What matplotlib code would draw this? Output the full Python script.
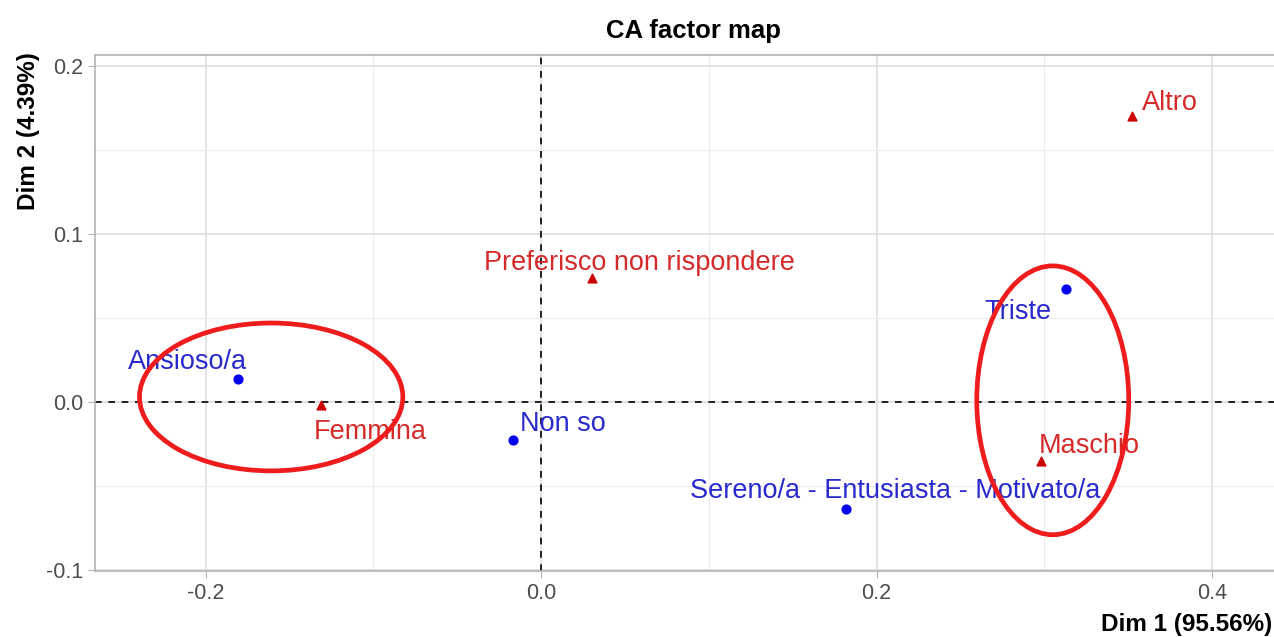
import matplotlib
matplotlib.use("Agg")
import matplotlib.pyplot as plt
from matplotlib.patches import Ellipse
from matplotlib.ticker import MultipleLocator

plt.rcParams['font.family'] = ['Liberation Sans', 'DejaVu Sans']

# row points (blue) and column points (red) from the CA
row_labels = ["Ansioso/a", "Non so", "Sereno/a - Entusiasta - Motivato/a", "Triste"]
row_dim1 = [-0.181, -0.017, 0.182, 0.313]
row_dim2 = [0.0137, -0.0226, -0.0637, 0.0673]

col_labels = ["Femmina", "Preferisco non rispondere", "Maschio", "Altro"]
col_dim1 = [-0.131, 0.030, 0.298, 0.352]
col_dim2 = [-0.0018, 0.0738, -0.0351, 0.170]

# label offsets in pixels (repelled text)
row_offsets = [(-50, 17), (50, 16), (49, 18), (-48, -23)]
col_offsets = [(49, -27), (48, 15), (48, 15), (38, 13)]

fig = plt.figure(figsize=(12.74, 6.37), dpi=100)
# panel runs a bit past the right edge (cropped screenshot)
ax = fig.add_axes([0.0746, 0.1036, 0.94, 0.81])

ax.set_xlim(-0.266, 0.448)
ax.set_ylim(-0.1006, 0.2065)

ax.xaxis.set_major_locator(MultipleLocator(0.2))
ax.xaxis.set_minor_locator(MultipleLocator(0.1))
ax.yaxis.set_major_locator(MultipleLocator(0.1))
ax.yaxis.set_minor_locator(MultipleLocator(0.05))
ax.xaxis.set_major_formatter(lambda v, p: f"{v:.1f}")
ax.yaxis.set_major_formatter(lambda v, p: f"{v:.1f}")
ax.grid(which='major', color='#dedede', linewidth=1.2)
ax.grid(which='minor', color='#ececec', linewidth=0.8)
ax.set_axisbelow(True)
for s in ax.spines.values():
    s.set_color('#b3b3b3')
    s.set_linewidth(1.2)
ax.tick_params(which='major', colors='#b3b3b3', labelcolor='#4d4d4d',
               labelsize=15.5, length=5)
ax.tick_params(which='minor', length=0)

ax.axhline(0, color='black', linestyle=(0, (4, 4)), linewidth=1.2)
ax.axvline(0, color='black', linestyle=(0, (4, 4)), linewidth=1.2)

ax.scatter(row_dim1, row_dim2, color='#0000ee', s=40, zorder=3)
ax.scatter(col_dim1, col_dim2, color='#cc0000', marker='^', s=40, zorder=3)

for lab, x, y, off in zip(row_labels, row_dim1, row_dim2, row_offsets):
    ax.annotate(lab, (x, y), xytext=off, textcoords='offset pixels',
                ha='center', va='center', color='#2a2acc', fontsize=19.5)
for lab, x, y, off in zip(col_labels, col_dim1, col_dim2, col_offsets):
    ax.annotate(lab, (x, y), xytext=off, textcoords='offset pixels',
                ha='center', va='center', color='#d42a2a', fontsize=19.5)

# hand-drawn highlight ellipses
ax.add_patch(Ellipse((-0.161, 0.003), 0.157, 0.088, fill=False,
                     edgecolor='#ee1c1c', linewidth=3.4, zorder=4))
ax.add_patch(Ellipse((0.305, 0.001), 0.0906, 0.160, fill=False,
                     edgecolor='#ee1c1c', linewidth=3.4, zorder=4))

ax.set_title("CA factor map", fontsize=18.5, fontweight='bold', pad=12)
ax.set_xlabel("Dim 1 (95.56%)", fontsize=17.5, fontweight='bold')
ax.xaxis.set_label_coords(0.999, 0.037, transform=fig.transFigure)
ax.xaxis.label.set_ha('right')
ax.set_ylabel("Dim 2 (4.39%)", fontsize=17.5, fontweight='bold')
ax.yaxis.set_label_coords(0.0314, 0.794, transform=fig.transFigure)

fig.savefig("out.png", dpi=100)
